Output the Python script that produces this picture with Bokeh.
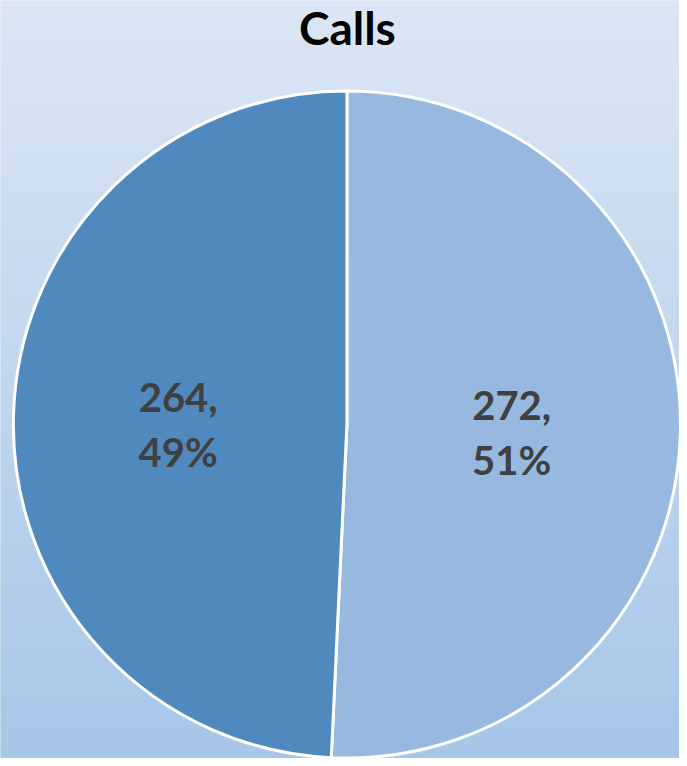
import numpy as np
from bokeh.plotting import figure
from bokeh.models import Range1d, ColumnDataSource
from bokeh.core.properties import value
from bokeh.embed import file_html
from bokeh.resources import INLINE

# ---- data ----
title_text = "Calls"
categories = ["A", "B"]
values = [272, 264]
slice_colors = ["#97B8DF", "#4F89BD"]

# ---- layout: data units = reference pixels (y upward) ----
RW, RH = 687, 766
W, H = 679, 758
p = figure(width=W, height=H, output_backend="svg", toolbar_location=None,
           x_range=Range1d(0, RW), y_range=Range1d(0, RH),
           min_border=0)
p.axis.visible = False
p.grid.visible = False
p.outline_line_color = None
p.background_fill_color = "#DCE6F4"
p.border_fill_color = "#DCE6F4"

# background gradient (vertical)
n = 120
top = np.array([0xDC, 0xE6, 0xF4], dtype=float)
bot = np.array([0xA6, 0xC6, 0xE8], dtype=float)
ys = np.linspace(RH, 0, n + 1)
cols = []
for i in range(n):
    t = (i + 0.5) / n
    c = top * (1 - t) + bot * t
    cols.append("#%02x%02x%02x" % tuple(int(round(v)) for v in c))
p.quad(left=-10, right=RW + 10, top=ys[:-1] + 0.6, bottom=ys[1:],
       fill_color=cols, line_color=None)

# pie
cx, cy, r = 350.5, RH - 428.5, 337.5
vals = np.array(values, dtype=float)
frac = vals / vals.sum()
cum = np.concatenate([[0], np.cumsum(frac)])
start = np.pi / 2 - 2 * np.pi * cum[:-1]
end = np.pi / 2 - 2 * np.pi * cum[1:]
src = ColumnDataSource(dict(start=start, end=end, color=slice_colors))
p.wedge(x=cx, y=cy, radius=r, start_angle="start", end_angle="end",
        direction="clock", fill_color="color", line_color="white",
        line_width=3, source=src)

# labels
mid = (start + end) / 2
lx = cx + 0.5 * r * np.cos(mid) - 2
ly = cy + 0.5 * r * np.sin(mid) - 4
labels = ["%d,\n%d%%" % (v, round(f * 100)) for v, f in zip(values, frac)]
p.text(x=lx, y=ly, text=labels, text_align="center", text_baseline="middle",
       text_font=value("Lato"), text_font_style="bold", text_font_size="40px",
       text_color="#404040", text_line_height=1.15)

# title
p.text(x=[351], y=[RH - 27], text=[title_text], text_align="center",
       text_baseline="middle", text_font=value("Lato"), text_font_style="bold",
       text_font_size="46px", text_color="#000000")

open("out.html", "w").write(file_html(p, INLINE))
